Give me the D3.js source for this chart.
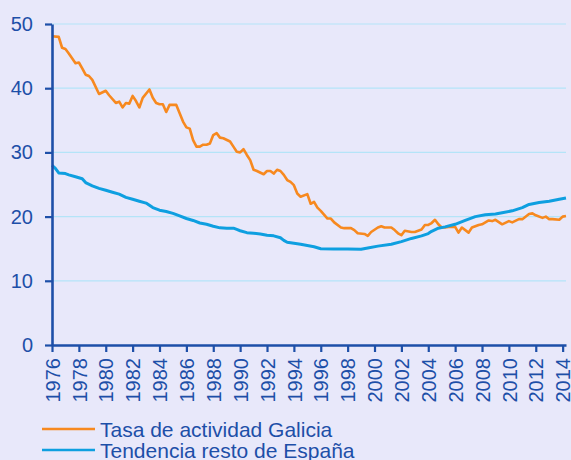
<!DOCTYPE html>
<html>
<head>
<meta charset="utf-8">
<script src="https://cdn.jsdelivr.net/npm/d3@7"></script>
<style>
  html, body { margin: 0; padding: 0; background: #e8e8fa; }
  svg { display: block; font-family: "Liberation Sans", Arial, sans-serif; }
</style>
</head>
<body>
<script>
// Tasa de actividad Galicia (quarter as decimal year, value)
var galiciaYears = [1976, 1976.5, 1976.75, 1977, 1977.25, 1977.75, 1978, 1978.25, 1978.5, 1978.75,
  1979, 1979.5, 1980, 1980.25, 1980.75, 1981, 1981.25, 1981.5, 1981.75, 1982,
  1982.25, 1982.5, 1982.75, 1983.25, 1983.5, 1983.75, 1984, 1984.25, 1984.5, 1984.75,
  1985.25, 1985.5, 1985.75, 1986, 1986.25, 1986.5, 1986.75, 1987, 1987.25, 1987.5,
  1987.75, 1988, 1988.25, 1988.5, 1988.75, 1989.25, 1989.5, 1989.75, 1990, 1990.25,
  1990.5, 1990.75, 1991, 1991.25, 1991.75, 1992, 1992.25, 1992.5, 1992.75, 1993,
  1993.25, 1993.5, 1993.75, 1994, 1994.25, 1994.5, 1995, 1995.25, 1995.5, 1995.75,
  1996, 1996.5, 1996.75, 1997, 1997.5, 1997.75, 1998.25, 1998.5, 1998.75, 1999.25,
  1999.5, 1999.75, 2000.25, 2000.5, 2000.75, 2001.25, 2001.5, 2001.75, 2002, 2002.25,
  2002.75, 2003, 2003.5, 2003.75, 2004, 2004.25, 2004.5, 2004.75, 2005, 2005.25,
  2005.5, 2006, 2006.25, 2006.5, 2007, 2007.25, 2007.75, 2008, 2008.5, 2008.75,
  2009, 2009.5, 2010, 2010.25, 2010.75, 2011, 2011.5, 2011.75, 2012, 2012.5,
  2012.75, 2013, 2013.25, 2013.75, 2014, 2014.25];
var galiciaValues = [48.1, 48.0, 46.3, 46.1, 45.4, 43.9, 44.0, 43.1, 42.1, 41.9,
  41.3, 39.1, 39.6, 38.9, 37.7, 37.9, 37.0, 37.7, 37.6, 38.8,
  38.0, 37.0, 38.5, 39.8, 38.5, 37.7, 37.5, 37.5, 36.3, 37.4,
  37.4, 36.1, 34.8, 33.9, 33.7, 31.9, 30.9, 30.9, 31.2, 31.2,
  31.4, 32.7, 33.0, 32.3, 32.2, 31.7, 30.9, 30.1, 30.0, 30.5,
  29.6, 28.8, 27.3, 27.1, 26.6, 27.1, 27.1, 26.7, 27.3, 27.1,
  26.5, 25.7, 25.4, 24.9, 23.6, 23.1, 23.5, 22.0, 22.3, 21.4,
  20.9, 19.7, 19.7, 19.1, 18.3, 18.2, 18.2, 17.9, 17.4, 17.3,
  17.0, 17.6, 18.3, 18.5, 18.3, 18.3, 17.9, 17.4, 17.1, 17.8,
  17.6, 17.6, 18.0, 18.7, 18.7, 19.0, 19.5, 18.8, 18.3, 18.3,
  18.4, 18.4, 17.5, 18.3, 17.5, 18.3, 18.7, 18.8, 19.4, 19.3,
  19.5, 18.8, 19.3, 19.1, 19.6, 19.6, 20.4, 20.5, 20.2, 19.8,
  20.0, 19.6, 19.6, 19.5, 20.0, 20.1];

// Tendencia resto de España
var espanaYears = [1976, 1976.25, 1976.5, 1977, 1977.25, 1977.75, 1978.25, 1978.5, 1979, 1979.5,
  1980, 1980.5, 1981, 1981.5, 1982, 1982.5, 1983, 1983.5, 1984, 1984.5,
  1985, 1985.5, 1986, 1986.5, 1987, 1987.5, 1988, 1988.5, 1989, 1989.5,
  1989.75, 1990, 1990.5, 1991, 1991.5, 1992, 1992.5, 1993, 1993.25, 1993.5,
  1994.5, 1995.5, 1996, 1997, 1998, 1999, 1999.5, 2000.25, 2001.25, 2002,
  2002.75, 2003.5, 2004, 2004.25, 2004.75, 2005.25, 2006, 2006.75, 2007.5, 2008.25,
  2009, 2009.5, 2010.25, 2011, 2011.5, 2012.25, 2013, 2013.75, 2014.25];
var espanaValues = [28.0, 27.5, 26.8, 26.7, 26.5, 26.2, 25.9, 25.3, 24.8, 24.4,
  24.1, 23.8, 23.5, 23.0, 22.7, 22.4, 22.1, 21.4, 21.0, 20.8,
  20.5, 20.1, 19.7, 19.4, 19.0, 18.8, 18.5, 18.25, 18.2, 18.2,
  18.0, 17.8, 17.5, 17.4, 17.3, 17.1, 17.0, 16.7, 16.3, 16.0,
  15.7, 15.3, 15.0, 14.95, 14.95, 14.9, 15.1, 15.4, 15.7, 16.1,
  16.6, 17.0, 17.35, 17.7, 18.2, 18.4, 18.8, 19.4, 20.0, 20.3,
  20.4, 20.6, 20.9, 21.4, 21.9, 22.2, 22.4, 22.7, 22.9];

var yearTicks = d3.range(1976, 2015, 2);
var valueTicks = [0, 10, 20, 30, 40, 50];
var seriesNames = ["Tasa de actividad Galicia", "Tendencia resto de España"];
var seriesColors = ["#f7891f", "#0e9fe0"];

var width = 571;
var height = 460;
var margin = {top: 24, right: 5, bottom: 115, left: 52};
var axisColor = "#1d4fa8";

var galicia = galiciaYears.map((d, i) => { return {t: d, v: galiciaValues[i]}; });
var espana = espanaYears.map((d, i) => { return {t: d, v: espanaValues[i]}; });

var x = d3.scaleLinear()
	.domain([1976, 2014.25])
	.range([margin.left, width - margin.right]);

var y = d3.scaleLinear()
	.domain([0, 50])
	.range([height - margin.bottom, margin.top]);

var svg = d3.select("body")
	.append("svg")
		.attr("width", width)
		.attr("height", height)
		.style("background-color", "#e8e8fa");

// gridlines
svg.append("g")
	.selectAll("line")
	.data(valueTicks.slice(1))
	.enter()
	.append("line")
		.attr("x1", x(1976))
		.attr("x2", x(2014.25))
		.attr("y1", (d) => { return y(d); })
		.attr("y2", (d) => { return y(d); })
		.attr("stroke", "#b4e4f8")
		.attr("stroke-width", 1.2);

var line = d3.line()
	.x((d) => { return x(d.t); })
	.y((d) => { return y(d.v); });

svg.append("path")
	.datum(galicia)
	.attr("d", line)
	.attr("fill", "none")
	.attr("stroke", seriesColors[0])
	.attr("stroke-width", 2.6)
	.attr("stroke-linejoin", "round");

svg.append("path")
	.datum(espana)
	.attr("d", line)
	.attr("fill", "none")
	.attr("stroke", seriesColors[1])
	.attr("stroke-width", 3)
	.attr("stroke-linejoin", "round");

// axes
var leftAxis = d3.axisLeft(y)
	.tickValues(valueTicks)
	.tickSize(7)
	.tickSizeOuter(0)
	.tickPadding(12);

var gy = svg.append("g")
	.attr("transform", "translate(" + margin.left + ",0)")
	.call(leftAxis);

var bottomAxis = d3.axisBottom(x)
	.tickValues(yearTicks)
	.tickSize(7)
	.tickSizeOuter(0)
	.tickFormat(d3.format("d"));

var gx = svg.append("g")
	.attr("transform", "translate(0," + y(0) + ")")
	.call(bottomAxis);

[gx, gy].forEach((g) => {
	g.select(".domain").attr("stroke", axisColor).attr("stroke-width", 2.6);
	g.selectAll(".tick line").attr("stroke", axisColor).attr("stroke-width", 2.2);
	g.selectAll(".tick text")
		.attr("fill", axisColor)
		.attr("font-size", "20px")
		.attr("font-family", "Liberation Sans, Arial, sans-serif");
});

gx.selectAll(".tick text")
	.attr("text-anchor", "end")
	.attr("transform", "translate(0,13) rotate(-90)")
	.attr("x", 0)
	.attr("y", 0)
	.attr("dy", "0.36em");

// legend
var legend = svg.append("g")
	.selectAll("g")
	.data(seriesNames)
	.enter()
	.append("g")
		.attr("transform", (d, i) => { return "translate(42," + (429 + i * 21) + ")"; });

legend.append("line")
	.attr("x1", 0)
	.attr("x2", 53)
	.attr("stroke", (d, i) => { return seriesColors[i]; })
	.attr("stroke-width", 2.6);

legend.append("text")
	.attr("x", 58)
	.attr("y", 8)
	.attr("font-size", "21px")
	.attr("fill", axisColor)
	.text((d) => { return d; });
</script>
</body>
</html>
